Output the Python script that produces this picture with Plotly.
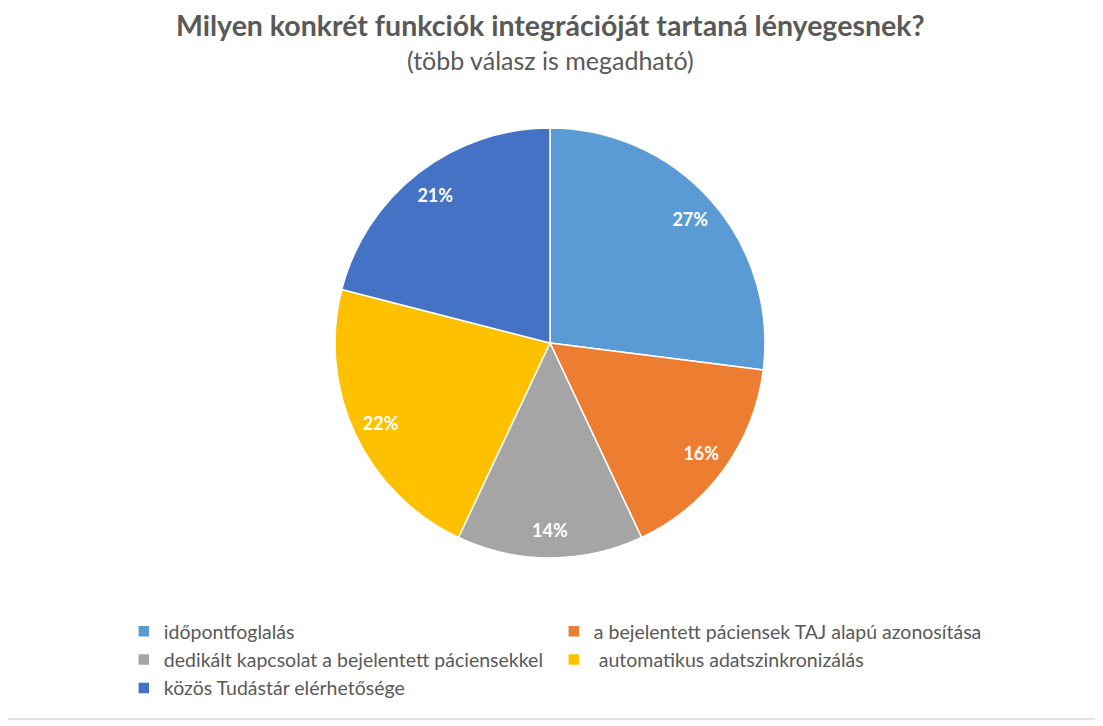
import plotly.graph_objects as go

labels = [
    "időpontfoglalás",
    "a bejelentett páciensek TAJ alapú azonosítása",
    "dedikált kapcsolat a bejelentett páciensekkel",
    " automatikus adatszinkronizálás",
    "közös Tudástár elérhetősége",
]
values = [27, 16, 14, 22, 21]
colors = ["#5B9BD5", "#ED7D31", "#A5A5A5", "#FFC000", "#4472C4"]

title_text = "Milyen konkrét funkciók integrációját tartaná lényegesnek?"
subtitle_text = "(több válasz is megadható)"

W, H = 1103, 726
OFF = 8  # page body margin
cx, cy, R = 550 - OFF, 343 - OFF, 215

FONT = "Lato, Roboto, sans-serif"
domain = dict(
    x=[(cx - R) / W, (cx + R) / W],
    y=[1 - (cy + R) / H, 1 - (cy - R) / H],
)

fig = go.Figure()
# coloured slices
fig.add_trace(
    go.Pie(
        labels=labels,
        values=values,
        sort=False,
        direction="clockwise",
        rotation=0,
        marker=dict(colors=colors, line=dict(color="white", width=1.5)),
        textinfo="none",
        domain=domain,
        hoverinfo="label+percent",
        showlegend=True,
    )
)
# transparent ring carrying the percentage labels near the outer edge
fig.add_trace(
    go.Pie(
        labels=labels,
        values=values,
        sort=False,
        direction="clockwise",
        rotation=0,
        hole=0.74,
        marker=dict(colors=["rgba(0,0,0,0)"] * len(values), line=dict(width=0)),
        texttemplate="%{percent:.0%}",
        textposition="inside",
        insidetextorientation="horizontal",
        textfont=dict(color="white", size=18, family=FONT, weight="bold"),
        domain=domain,
        hoverinfo="skip",
        showlegend=False,
    )
)

fig.add_annotation(
    text="<b>" + title_text + "</b>",
    x=(550 - OFF) / W, y=1 - (25 - OFF) / H, xref="paper", yref="paper",
    showarrow=False, xanchor="center", yanchor="middle",
    font=dict(size=28.5, color="#595959", family=FONT),
)
fig.add_annotation(
    text=subtitle_text,
    x=(550 - OFF) / W, y=1 - (60 - OFF) / H, xref="paper", yref="paper",
    showarrow=False, xanchor="center", yanchor="middle",
    font=dict(size=25, color="#595959", family=FONT),
)

fig.add_shape(
    type="line", xref="paper", yref="paper",
    x0=-0.05, x1=1.05, y0=1 - (719 - OFF) / H, y1=1 - (719 - OFF) / H,
    line=dict(color="#D9D9D9", width=1.5),
)

fig.update_layout(
    width=W, height=H,
    margin=dict(l=0, r=0, t=0, b=0),
    paper_bgcolor="white",
    plot_bgcolor="white",
    showlegend=True,
    legend=dict(
        orientation="h",
        x=0.105, y=1 - 604 / H, xanchor="left", yanchor="top",
        entrywidth=385, entrywidthmode="pixels",
        font=dict(size=19.5, color="#595959", family=FONT),
        traceorder="normal",
        itemclick=False,
    ),
)

fig.write_html("out.html")
